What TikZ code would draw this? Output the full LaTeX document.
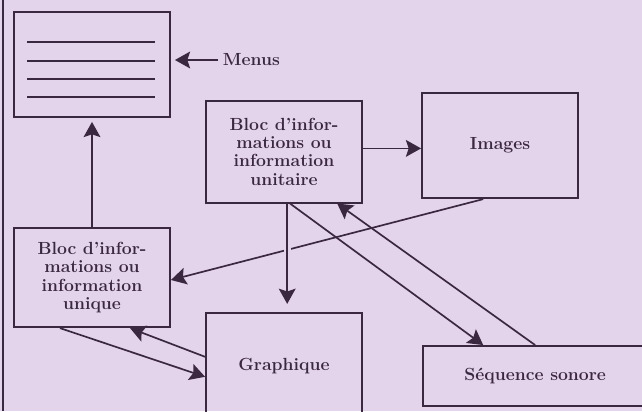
\documentclass[tikz,border=0pt]{standalone}
\usetikzlibrary{arrows.meta}
\definecolor{paper}{RGB}{227,211,235}
\definecolor{ink}{RGB}{58,40,64}
\tikzset{
  box/.style={draw=ink, line width=1.3pt, align=center, text=ink, minimum width=3.9cm, font=\fontsize{12.5}{13}\selectfont\bfseries},
  kmenu/.style={box, minimum height=2.63cm},
  kbloc/.style={box, minimum height=2.55cm},
  kmedia/.style={box, minimum height=2.63cm},
  klabel/.style={text=ink, font=\fontsize{12.5}{13}\selectfont\bfseries},
  flow/.style={-{Stealth[length=3.8mm, width=4.2mm, inset=0.7mm]}, draw=ink, line width=1.2pt},
  gap/.style={draw=paper, line width=5pt},
}

\begin{document}
\begin{tikzpicture}
    \fill[paper] (0,0) rectangle (16.05,-10.275);
    \clip (0,0) rectangle (16.05,-10.275);
    \draw[ink, line width=1.4pt] (0.075,0) -- (0.075,-10.275);
    \node[kmenu] (menu) at (2.30,-1.61) {};
    \foreach \y in {-1.05,-1.525,-1.975} {
      \draw[ink, line width=1.1pt] (0.675,\y) -- (3.875,\y);
    }
    \draw[ink, line width=1.7pt] (0.675,-2.425) -- (3.875,-2.425);
    \node[klabel, anchor=west] (menulbl) at (5.45,-1.50) {Menus};
    \node[kbloc] (blocA) at (7.10,-3.79) {Bloc d'infor-\\mations ou\\information\\unitaire};
    \node[kmedia] (images) at (12.50,-3.64) {Images};
    \node[kbloc, minimum height=2.48cm] (blocB) at (2.30,-6.94) {Bloc d'infor-\\mations ou\\information\\unique};
    \node[kmedia, minimum height=2.68cm] (graph) at (7.10,-9.16) {Graphique};
    \node[box, minimum width=5.6cm, minimum height=1.5cm] (seq) at (13.38,-9.40) {S\'equence sonore};
    \draw[flow, shorten >=0.1cm] (menulbl.west) -- (menulbl.west -| menu.east);
    \draw[flow, shorten >=0.1cm] (blocB.north) -- (menu.south);
    \draw[flow] ([yshift=0.08cm]blocA.east) -- ([yshift=0.08cm]blocA.east -| images.west);
    \draw[flow] ([xshift=-0.42cm]images.south) -- ([yshift=-0.06cm]blocB.east);
    \draw[gap, shorten <=0.95cm, shorten >=1.4cm] ([xshift=0.08cm]blocA.south) -- ([xshift=0.08cm]graph.north);
    \draw[flow, shorten >=0.2cm] ([xshift=0.08cm]blocA.south) -- ([xshift=0.08cm]graph.north);
    \draw[flow] ([xshift=0.15cm]blocA.south) -- ([xshift=-1.30cm]seq.north);
    \draw[flow] (seq.north) -- ([xshift=1.33cm]blocA.south);
    \draw[flow] ([xshift=-0.80cm]blocB.south) -- ([yshift=-0.26cm]graph.west);
    \draw[flow] ([yshift=0.24cm]graph.west) -- ([xshift=0.95cm]blocB.south);
  \end{tikzpicture}
\end{document}
